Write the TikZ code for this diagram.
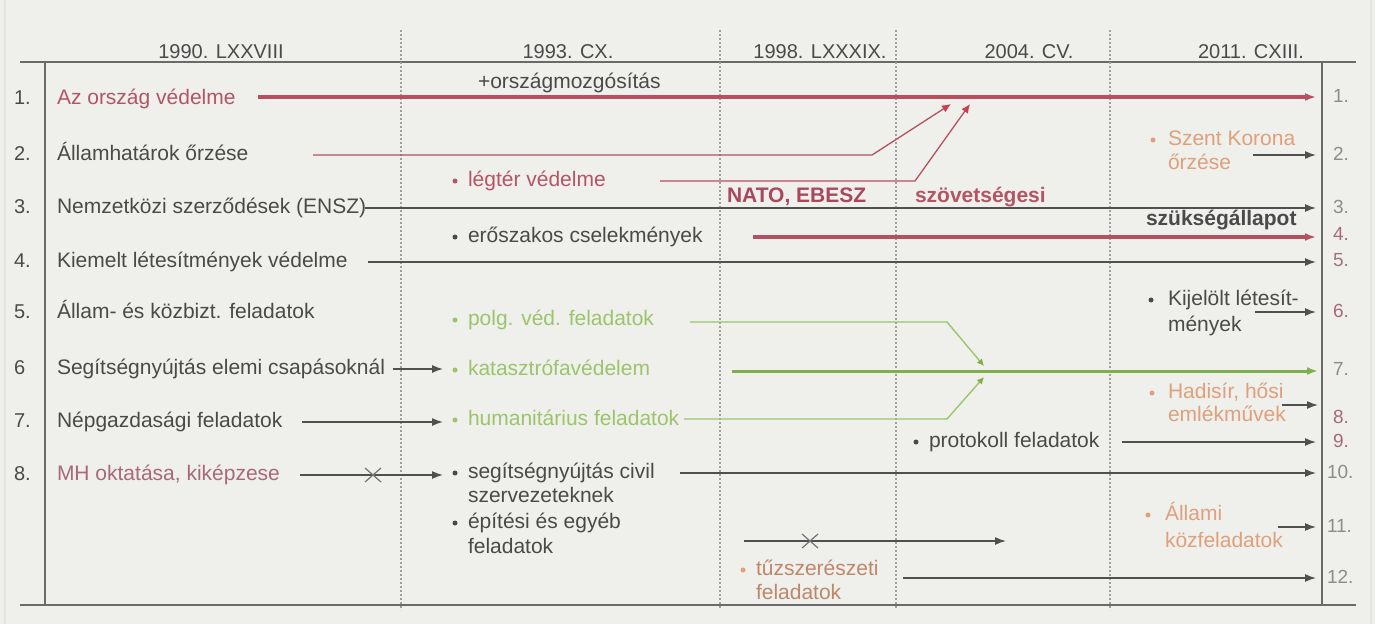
\documentclass[tikz,border=0pt]{standalone}
\usepackage{fontspec}
\setmainfont{Liberation Sans}
\usetikzlibrary{arrows.meta,calc}
\definecolor{bg}{HTML}{EFEFEC}
\definecolor{txt}{HTML}{4A4A4A}
\definecolor{lin}{HTML}{505050}
\definecolor{frm}{HTML}{6A6A6A}
\definecolor{redT}{HTML}{B45563}
\definecolor{redL}{HTML}{B5505F}
\definecolor{redA}{HTML}{D23A50}
\definecolor{redB}{HTML}{A8485A}
\definecolor{grT}{HTML}{9CC46C}
\definecolor{grM}{HTML}{7FAF4A}
\definecolor{sal}{HTML}{DFA07C}
\definecolor{mauve}{HTML}{A86A7A}
\definecolor{numg}{HTML}{8C8C8C}
\begin{document}
\begin{tikzpicture}[x=1pt,y=-1pt,
  every node/.style={inner sep=0pt, outer sep=0pt},
  lbl/.style={anchor=west, font=\fontsize{21}{25}\selectfont, text=txt, text height=15pt, text depth=4.5pt},
  bold/.style={lbl, font=\fontsize{21}{25}\selectfont\bfseries},
  hdr/.style={font=\fontsize{20}{22}\selectfont, text=txt},
  num/.style={anchor=west, font=\fontsize{20}{22}\selectfont, text=txt, text height=14pt, text depth=4pt},
  rnum/.style={anchor=west, font=\fontsize{19}{21}\selectfont, text=numg, text height=14pt, text depth=4pt},
  bul/.style={circle, fill=#1, minimum size=5pt, inner sep=0pt},
  conn/.style={draw=lin, line width=1.4pt},
  thickred/.style={draw=redL, line width=3.2pt},
  thinred/.style={draw=redL, line width=1.3pt},
  thingreen/.style={draw=grT, line width=1.4pt},
  thickgreen/.style={draw=grM, line width=3pt},
  arr/.style={-{Latex[length=11pt,width=8pt]}},
  redarr/.style={-{Latex[length=9pt,width=8pt,color=redA]}},
  grarr/.style={-{Latex[length=7pt,width=7pt,color=grM]}},
  frame/.style={draw=frm, line width=1.5pt},
  sepline/.style={draw=gray!75, line width=1.2pt, dash pattern=on 2pt off 2pt},
  cross/.style={draw=lin!80, line width=1.2pt}
]
\useasboundingbox (0,0) rectangle (1375,624);
\fill[bg] (0,0) rectangle (1375,624);
\draw[gray!22, line width=2pt] (5,0) -- (5,624);
\draw[gray!22, line width=2pt] (1371,0) -- (1371,624);

% header
\node[hdr] (h1) at (221,52) {1990. LXXVIII};
\node[hdr] (h2) at (568,52) {1993. CX.};
\node[hdr] (h3) at (820,52) {1998. LXXXIX.};
\node[hdr] (h4) at (1029,52) {2004. CV.};
\node[hdr] (h5) at (1251,52) {2011. CXIII.};

% frame
\draw[frame] (20,62) -- (1356,62);
\draw[frame] (20,605) -- (1356,605);
\draw[frame] (45,62) -- (45,605);
\draw[frame] (1322,62) -- (1322,605);
\foreach \x in {401,720,896,1110} \draw[sepline] (\x,30) -- (\x,610);

% left numbers
\node[num] (n1) at (14,99) {1.};
\node[num] (n2) at (14,155) {2.};
\node[num] (n3) at (14,208) {3.};
\node[num] (n4) at (14,262) {4.};
\node[num] (n5) at (14,313) {5.};
\node[num] (n6) at (14,369) {6};
\node[num] (n7) at (14,422) {7.};
\node[num] (n8) at (14,475) {8.};

% left texts
\node[lbl, text=redT] (t1) at (57,99) {Az ország védelme};
\node[lbl] (t2) at (57,155) {Államhatárok őrzése};
\node[lbl] (t3) at (57,208) {Nemzetközi szerződések (ENSZ)};
\node[lbl] (t4) at (57,262) {Kiemelt létesítmények védelme};
\node[lbl] (t5) at (57,313) {Állam- és közbizt. feladatok};
\node[lbl] (t6) at (57,369) {Segítségnyújtás elemi csapásoknál};
\node[lbl] (t7) at (57,422) {Népgazdasági feladatok};
\node[lbl, text=mauve] (t8) at (57,475) {MH oktatása, kiképzese};

% middle texts
\node[lbl] (mob) at (478,83) {+országmozgósítás};
\node[bul=redT] (b1) at (455,181) {};
\node[lbl, text=redT] (m1) at (468,181) {légtér védelme};
\node[bul=txt] (b2) at (455,237) {};
\node[lbl] (m2) at (468,237) {erőszakos cselekmények};
\node[bul=grT] (b3) at (455,320) {};
\node[lbl, text=grT] (m3) at (468,320) {polg. véd. feladatok};
\node[bul=grT] (b4) at (455,370) {};
\node[lbl, text=grT] (m4) at (468,370) {katasztrófavédelem};
\node[bul=grT] (b5) at (455,420) {};
\node[lbl, text=grT] (m5) at (468,420) {humanitárius feladatok};
\node[bul=txt] (b6) at (455,473) {};
\node[lbl] (m6) at (468,473) {segítségnyújtás civil};
\node[lbl] (m6b) at (468,497) {szervezeteknek};
\node[bul=txt] (b7) at (455,523) {};
\node[lbl] (m7) at (468,523) {építési és egyéb};
\node[lbl] (m7b) at (468,548) {feladatok};
\node[bul=sal] (b8) at (743,570) {};
\node[lbl, text=sal!85!black] (m8) at (756,570) {tűzszerészeti};
\node[lbl, text=sal!85!black] (m8b) at (756,594) {feladatok};

\node[bold, text=redB] (nato) at (727,197) {NATO, EBESZ};
\node[bold, text=redT] (szov) at (915,197) {szövetségesi};
\node[bold] (szuk) at (1146,220) {szükségállapot};
\node[bul=txt] (b9) at (916,442) {};
\node[lbl] (prot) at (929,442) {protokoll feladatok};

% right column texts
\node[bul=sal] (b10) at (1153,140) {};
\node[lbl, text=sal] (r1) at (1168,140) {Szent Korona};
\node[lbl, text=sal] (r1b) at (1168,164) {őrzése};
\node[bul=txt] (b11) at (1151,300) {};
\node[lbl] (r2) at (1168,300) {Kijelölt létesít-};
\node[lbl] (r2b) at (1168,326) {mények};
\node[bul=sal] (b12) at (1152,393) {};
\node[lbl, text=sal] (r3) at (1168,393) {Hadisír, hősi};
\node[lbl, text=sal] (r3b) at (1168,416) {emlékművek};
\node[bul=sal] (b13) at (1148,515) {};
\node[lbl, text=sal] (r4) at (1165,515) {Állami};
\node[lbl, text=sal] (r4b) at (1165,542) {közfeladatok};

% right numbers
\node[rnum] (q1) at (1333,97) {1.};
\node[rnum] (q2) at (1333,155) {2.};
\node[rnum] (q3) at (1333,208) {3.};
\node[rnum, text=mauve] (q4) at (1333,235) {4.};
\node[rnum, text=mauve!70!numg] (q5) at (1333,261) {5.};
\node[rnum, text=mauve] (q6) at (1333,312) {6.};
\node[rnum] (q7) at (1333,370) {7.};
\node[rnum, text=mauve] (q8) at (1333,418) {8.};
\node[rnum, text=mauve] (q9) at (1333,442) {9.};
\node[rnum] (q10) at (1327,473) {10.};
\node[rnum] (q11) at (1327,527) {11.};
\node[rnum] (q12) at (1327,578) {12.};

% connector coordinates
\coordinate (a1s) at (258,97);   \coordinate (a1e) at (1316,97);
\coordinate (a2s) at (313,155);  \coordinate (a2k) at (872,155);  \coordinate (a2e) at (951,104);
\coordinate (lgs) at (660,181);  \coordinate (lgk) at (915,181);  \coordinate (lge) at (970,104);
\coordinate (a3s) at (365,208);  \coordinate (a3e) at (1316,208);
\coordinate (a4s) at (753,237);  \coordinate (a4e) at (1316,237);
\coordinate (a5s) at (368,262);  \coordinate (a5e) at (1316,262);
\coordinate (a6s) at (393,369);  \coordinate (a6e) at (443,369);
\coordinate (a7s) at (302,422);  \coordinate (a7e) at (443,422);
\coordinate (a8s) at (300,475);  \coordinate (a8e) at (443,475);
\coordinate (x1) at (373,475);
\coordinate (pvs) at (690,322);  \coordinate (pvk) at (947,322);  \coordinate (pve) at (984,366);
\coordinate (kas) at (732,371);  \coordinate (kae) at (1318,371);
\coordinate (hus) at (684,419);  \coordinate (huk) at (947,419);  \coordinate (hue) at (984,377);
\coordinate (scs) at (680,473);  \coordinate (sce) at (1316,473);
\coordinate (prs) at (1122,442); \coordinate (pre) at (1316,442);
\coordinate (xls) at (744,541);  \coordinate (xle) at (1006,541);
\coordinate (x2) at (810,541);
\coordinate (tzs) at (903,578);  \coordinate (tze) at (1316,578);
\coordinate (sks) at (1253,155); \coordinate (ske) at (1316,155);
\coordinate (kjs) at (1255,312); \coordinate (kje) at (1316,312);
\coordinate (hds) at (1282,405); \coordinate (hde) at (1318,405);
\coordinate (als) at (1278,527); \coordinate (ale) at (1316,527);

% connectors
\draw[thickred, arr] (a1s) -- (a1e);
\draw[thinred, redarr] (a2s) -- (a2k) -- (a2e);
\draw[thinred, redarr] (lgs) -- (lgk) -- (lge);
\draw[conn, arr] (a3s) -- (a3e);
\draw[thickred, arr] (a4s) -- (a4e);
\draw[conn, arr] (a5s) -- (a5e);
\draw[conn, arr] (a6s) -- (a6e);
\draw[conn, arr] (a7s) -- (a7e);
\draw[conn, arr] (a8s) -- (a8e);
\draw[cross] ($(x1)+(-8,-7)$) -- ($(x1)+(8,7)$);
\draw[cross] ($(x1)+(-8,7)$) -- ($(x1)+(8,-7)$);
\draw[thingreen, grarr] (pvs) -- (pvk) -- (pve);
\draw[thickgreen, arr] (kas) -- (kae);
\draw[thingreen, grarr] (hus) -- (huk) -- (hue);
\draw[conn, arr] (scs) -- (sce);
\draw[conn, arr] (prs) -- (pre);
\draw[conn, arr] (xls) -- (xle);
\draw[cross] ($(x2)+(-8,-7)$) -- ($(x2)+(8,7)$);
\draw[cross] ($(x2)+(-8,7)$) -- ($(x2)+(8,-7)$);
\draw[conn, arr] (tzs) -- (tze);
\draw[conn, arr] (sks) -- (ske);
\draw[conn, arr] (kjs) -- (kje);
\draw[conn, arr] (hds) -- (hde);
\draw[conn, arr] (als) -- (ale);
\end{tikzpicture}
\end{document}
